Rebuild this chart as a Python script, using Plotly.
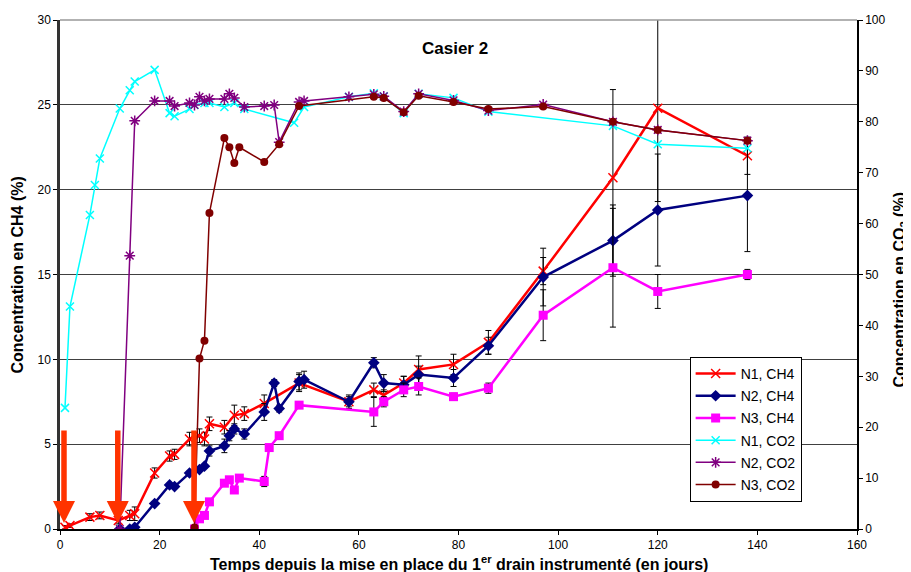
import plotly.graph_objects as go

# ---- data ----
n1_ch4_days = [1, 2, 6, 8, 11.7, 14, 15, 19, 22, 23, 26, 28, 29, 30, 33, 35, 37, 41, 48, 58, 63, 65, 69, 72, 79, 86, 97, 111, 120, 138]
n1_ch4_vals = [0.1, 0.2, 0.7, 0.8, 0.5, 0.8, 0.9, 3.3, 4.3, 4.4, 5.3, 5.5, 5.3, 6.2, 6.0, 6.7, 6.8, 7.4, 8.6, 7.5, 8.2, 7.9, 8.6, 9.4, 9.7, 11.0, 15.2, 20.7, 24.8, 22.0]
n1_ch4_err = [0.1, 0.1, 0.2, 0.2, 0.2, 0.3, 0.4, 0.3, 0.3, 0.3, 0.4, 0.4, 0.4, 0.4, 0.4, 0.6, 0.4, 0.5, 0.5, 0.4, 0.4, 0.3, 0.4, 0.8, 0.6, 0.7, 0.8, 5.2, 5.5, 1.1]

n2_ch4_days = [12, 14, 15, 19, 22, 23, 26, 28, 29, 30, 33, 34, 35, 37, 41, 43, 44, 48, 49, 58, 63, 65, 69, 72, 79, 86, 97, 111, 120, 138]
n2_ch4_vals = [0.0, 0.0, 0.1, 1.5, 2.6, 2.5, 3.3, 3.5, 3.7, 4.6, 4.9, 5.5, 5.9, 5.6, 6.9, 8.6, 7.1, 8.7, 8.8, 7.5, 9.8, 8.6, 8.5, 9.1, 8.9, 10.8, 14.85, 17.0, 18.8, 19.65]
n2_ch4_err = [0.0, 0.0, 0.1, 0.1, 0.1, 0.1, 0.1, 0.1, 0.1, 0.3, 0.4, 0.3, 0.3, 0.3, 0.5, 0.2, 0.2, 0.5, 0.5, 0.3, 0.3, 0.5, 0.5, 0.5, 0.5, 0.5, 1.7, 2.1, 3.3, 3.3]

n3_ch4_days = [27, 28, 29, 30, 33, 34, 35, 36, 41, 42, 44, 48, 63, 65, 69, 72, 79, 86, 97, 111, 120, 138]
n3_ch4_vals = [0.0, 0.6, 0.8, 1.6, 2.7, 2.9, 2.3, 3.0, 2.8, 4.8, 5.5, 7.3, 6.9, 7.5, 8.2, 8.4, 7.8, 8.3, 12.6, 15.4, 14.0, 15.0]
n3_ch4_err = [0.0, 0.1, 0.1, 0.1, 0.1, 0.1, 0.1, 0.2, 0.3, 0.1, 0.1, 0.1, 0.85, 0.3, 0.4, 0.5, 0.2, 0.3, 1.5, 3.5, 1.0, 0.3]

n1_co2_days = [1, 2, 6, 7, 8, 12, 14, 15, 19, 22, 23, 26, 27, 29, 30, 33, 35, 37, 47, 49, 58, 63, 65, 69, 72, 79, 86, 111, 120, 138]
n1_co2_vals = [23.8, 43.7, 61.7, 67.6, 72.8, 82.6, 86.2, 87.9, 90.2, 81.7, 81.1, 82.5, 83.3, 83.7, 83.7, 82.9, 83.7, 82.5, 79.8, 82.9, 84.9, 85.6, 85.0, 81.7, 85.5, 84.7, 82.0, 79.2, 75.6, 74.8]

n2_co2_days = [12, 14, 15, 19, 22, 23, 26, 27, 28, 29, 30, 33, 34, 35, 37, 41, 43, 44, 48, 49, 58, 63, 65, 69, 72, 79, 86, 97, 111, 120, 138]
n2_co2_vals = [0.0, 53.7, 80.2, 84.1, 84.1, 83.1, 83.7, 83.3, 84.9, 84.1, 84.5, 84.5, 85.5, 84.7, 82.9, 83.1, 83.3, 76.0, 83.9, 84.1, 84.9, 85.4, 85.0, 82.0, 85.5, 84.2, 82.2, 83.4, 80.0, 78.4, 76.3]

n3_co2_days = [27, 28, 29, 30, 33, 34, 35, 36, 41, 44, 48, 63, 65, 69, 72, 79, 86, 97, 111, 120, 138]
n3_co2_vals = [0.3, 33.5, 37.0, 62.1, 76.8, 75.0, 71.9, 75.0, 72.1, 75.6, 83.1, 84.9, 84.7, 81.9, 85.1, 83.9, 82.5, 83.0, 80.0, 78.4, 76.3]

arrow_days = [0.8, 11.6, 26.9]
arrow_top = 6.3
arrow_tip = 0.35

x_ticks = [0, 20, 40, 60, 80, 100, 120, 140, 160]

FONT = "Arial, 'Liberation Sans', sans-serif"

fig = go.Figure()

def err(v):
    return dict(type="data", array=v, visible=True, color="black", thickness=1, width=3)

fig.add_trace(go.Scatter(x=n1_ch4_days, y=n1_ch4_vals, name="N1, CH4", mode="lines+markers",
                         line=dict(color="#FF0000", width=2.5),
                         marker=dict(symbol="x-thin-open", size=9, color="#FF0000", line=dict(color="#FF0000", width=1.5)),
                         error_y=err(n1_ch4_err), legendgroup="a"))
fig.add_trace(go.Scatter(x=n2_ch4_days, y=n2_ch4_vals, name="N2, CH4", mode="lines+markers",
                         line=dict(color="#000080", width=2.5),
                         marker=dict(symbol="diamond", size=9, color="#000080"),
                         error_y=err(n2_ch4_err), legendgroup="b"))
fig.add_trace(go.Scatter(x=n3_ch4_days, y=n3_ch4_vals, name="N3, CH4", mode="lines+markers",
                         line=dict(color="#FF00FF", width=2.5),
                         marker=dict(symbol="square", size=9, color="#FF00FF"),
                         error_y=err(n3_ch4_err), legendgroup="c"))
fig.add_trace(go.Scatter(x=n1_co2_days, y=n1_co2_vals, name="N1, CO2", mode="lines+markers", yaxis="y2",
                         line=dict(color="#00FFFF", width=1.5),
                         marker=dict(symbol="x-thin-open", size=8, color="#00FFFF", line=dict(color="#00FFFF", width=1.5)),
                         legendgroup="d"))
fig.add_trace(go.Scatter(x=n2_co2_days, y=n2_co2_vals, name="N2, CO2", mode="lines+markers", yaxis="y2",
                         line=dict(color="#800080", width=1.5),
                         marker=dict(symbol="asterisk-open", size=9, color="#800080", line=dict(color="#800080", width=1.5)),
                         legendgroup="e"))
fig.add_trace(go.Scatter(x=n3_co2_days, y=n3_co2_vals, name="N3, CO2", mode="lines+markers", yaxis="y2",
                         line=dict(color="#800000", width=1.5),
                         marker=dict(symbol="circle", size=8, color="#800000"),
                         legendgroup="f"))

annotations = []
for d in arrow_days:
    annotations.append(dict(x=d, y=arrow_tip, ax=d, ay=arrow_top, xref="x", yref="y", axref="x", ayref="y",
                            showarrow=True, arrowhead=2, arrowsize=0.8, arrowwidth=5.5, arrowcolor="#FF3300", text=" "))
annotations.append(dict(x=79.3, y=28.3, xref="x", yref="y", text="<b>Casier 2</b>", showarrow=False,
                        font=dict(family=FONT, size=17, color="black")))
# axis titles
annotations.append(dict(x=0.5, y=-0.067, xref="paper", yref="paper", xanchor="center", yanchor="middle",
                        text="<b>Temps depuis la mise en place du 1<sup>er</sup> drain instrumenté (en jours)</b>",
                        showarrow=False, font=dict(family=FONT, size=16, color="black")))
annotations.append(dict(x=-0.0527, y=0.5, xref="paper", yref="paper", xanchor="center", yanchor="middle",
                        textangle=-90, text="<b>Concentration en CH4 (%)</b>",
                        showarrow=False, font=dict(family=FONT, size=16, color="black")))
annotations.append(dict(x=1.055, y=0.47, xref="paper", yref="paper", xanchor="center", yanchor="middle",
                        textangle=-90, text="<b>Concentration en CO<sub>2</sub> (%)</b>",
                        showarrow=False, font=dict(family=FONT, size=16, color="black")))

# the page body adds an 8px offset; size the figure so the plot area lands where the reference has it
fig.update_layout(
    width=903, height=564,
    margin=dict(l=52, r=54, t=12, b=43),
    paper_bgcolor="white", plot_bgcolor="white",
    font=dict(family=FONT, size=12, color="black"),
    showlegend=True,
    legend=dict(x=0.79, y=0.338, xanchor="left", yanchor="top", bgcolor="white",
                bordercolor="black", borderwidth=1, font=dict(family=FONT, size=14, color="black"),
                traceorder="grouped", tracegroupgap=1, itemwidth=40),
    xaxis=dict(range=[0, 160], tickvals=x_ticks, showgrid=False, zeroline=False, showline=True,
               linecolor="black", linewidth=1.5, ticks="outside", ticklen=4, tickcolor="black",
               tickfont=dict(size=12), automargin=False),
    yaxis=dict(range=[0, 30], dtick=5, showgrid=True, gridcolor="#404040", gridwidth=1, zeroline=False,
               showline=True, linecolor="#333333", linewidth=2.5, ticks="outside", ticklen=4, tickcolor="black",
               tickfont=dict(size=12), automargin=False),
    yaxis2=dict(range=[0, 100], dtick=10, overlaying="y", side="right", showgrid=False, zeroline=False,
                showline=True, linecolor="black", linewidth=1.5, ticks="outside", ticklen=4, tickcolor="black",
                tickfont=dict(size=12), automargin=False),
    annotations=annotations,
    shapes=[dict(type="line", xref="paper", yref="paper", x0=0, x1=1, y0=1, y1=1,
                 line=dict(color="#999999", width=1.5))],
)

fig.write_html("out.html")
